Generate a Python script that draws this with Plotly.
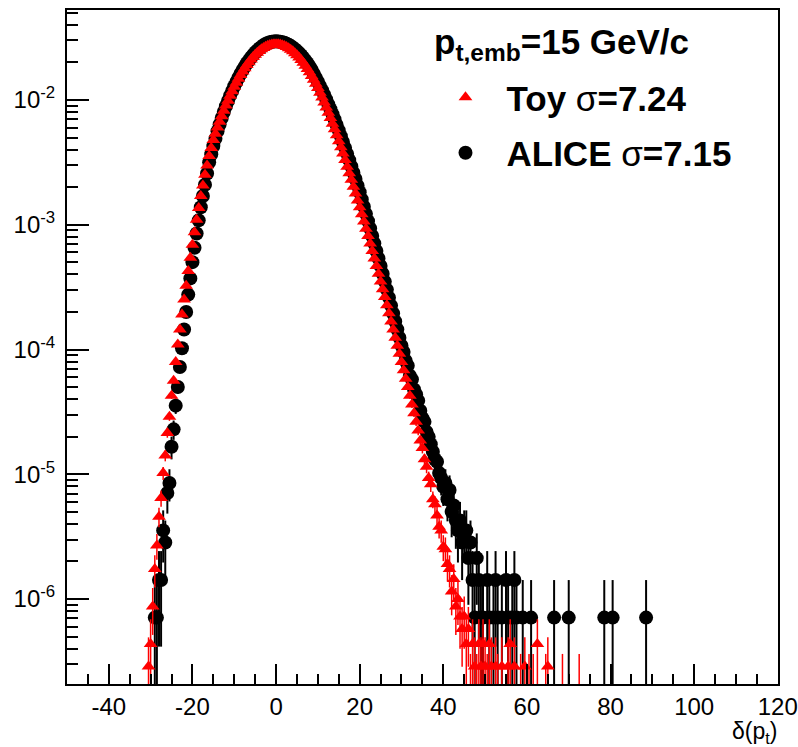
import math
import plotly.graph_objects as go

N = None
FONT = "Liberation Sans, Arial, Helvetica, sans-serif"

# ---------------- data ----------------
BIN_STEP = 0.5                 # bin width of both histograms (GeV/c)
TOY_X_START = -30.5            # centre of first toy bin
ALICE_X_START = -29.5          # centre of first ALICE bin
TOY_ONE_ENTRY = 1.45e-7        # height of a single-entry toy bin
ALICE_ONE_ENTRY = 7.1e-7       # height of a single-entry ALICE bin

# log10 of the normalised yield per bin (None = empty bin)
toy_log10 = [
    -6.54, -6.36, -6.06, -5.76, -5.57, -5.34, -5.19, -4.99, -4.85, -4.67,
    -4.54, -4.37, -4.25, -4.10, -3.96, -3.84, -3.72, -3.60, -3.49, -3.37,
    -3.265, -3.16, -3.06, -2.96, -2.865, -2.77, -2.685, -2.60, -2.525, -2.45,
    -2.385, -2.32, -2.27, -2.22, -2.175, -2.13, -2.087, -2.045, -2.006, -1.967,
    -1.93, -1.895, -1.862, -1.83, -1.80, -1.772, -1.746, -1.72, -1.697, -1.676,
    -1.656, -1.638, -1.622, -1.607, -1.594, -1.583, -1.574, -1.566, -1.56, -1.556,
    -1.554, -1.553, -1.554, -1.556, -1.561, -1.568, -1.576, -1.586, -1.597, -1.61,
    -1.625, -1.642, -1.66, -1.68, -1.702, -1.726, -1.751, -1.778, -1.807, -1.838,
    -1.871, -1.905, -1.942, -1.98, -2.02, -2.06, -2.102, -2.145, -2.19, -2.235,
    -2.282, -2.33, -2.38, -2.43, -2.482, -2.535, -2.587, -2.64, -2.695, -2.75,
    -2.805, -2.86, -2.917, -2.975, -3.032, -3.09, -3.15, -3.21, -3.27, -3.33,
    -3.392, -3.455, -3.517, -3.58, -3.645, -3.71, -3.775, -3.84, -3.905, -3.97,
    -4.035, -4.10, -4.167, -4.235, -4.30, -4.37, -4.44, -4.51, -4.58, -4.65,
    -4.73, -4.79, -4.88, -4.94, -5.03, -5.08, -5.20, -5.24, -5.33, -5.42,
    -5.45, -5.58, -5.60, -5.72, -5.76, -5.94, -5.84, -6.06, -6.00, -6.14,
    -6.24, -6.14, -6.36, -6.24, -6.71, -6.36, -6.54, -6.71, -6.36, -6.54,
    -6.36, -6.54, -6.71, -6.36, -6.54, N, -6.54, -6.71, N, -6.54,
    N, N, -6.54, -6.36, N, -6.54, N, N, -6.71, N,
    -6.54, N, -6.71, N, -6.71, N, -6.36, N, N, N,
    -6.71, -6.54, N, N, N, N, N, N, -6.71, N,
    N, N, N, N, N, N, -6.71,
]

alice_log10 = [
    N, -6.149, -6.149, -5.848, -5.848, -5.45, -5.547, -5.15, -5.07, -4.78,
    -4.64, -4.45, -4.30, -4.14, -3.99, -3.84, -3.70, -3.56, -3.43, -3.30,
    -3.185, -3.07, -2.965, -2.86, -2.77, -2.68, -2.59, -2.50, -2.435, -2.37,
    -2.31, -2.25, -2.197, -2.145, -2.097, -2.05, -2.008, -1.966, -1.928, -1.89,
    -1.856, -1.822, -1.79, -1.76, -1.733, -1.706, -1.683, -1.66, -1.64, -1.62,
    -1.604, -1.588, -1.575, -1.562, -1.552, -1.544, -1.538, -1.533, -1.531, -1.53,
    -1.531, -1.533, -1.537, -1.542, -1.549, -1.558, -1.568, -1.579, -1.593, -1.608,
    -1.624, -1.642, -1.662, -1.683, -1.706, -1.731, -1.757, -1.79, -1.821, -1.854,
    -1.887, -1.921, -1.958, -1.996, -2.035, -2.074, -2.115, -2.157, -2.20, -2.244,
    -2.29, -2.336, -2.384, -2.432, -2.482, -2.533, -2.583, -2.634, -2.687, -2.74,
    -2.797, -2.855, -2.913, -2.971, -3.03, -3.09, -3.15, -3.21, -3.27, -3.33,
    -3.393, -3.456, -3.52, -3.584, -3.648, -3.712, -3.776, -3.84, -3.905, -3.97,
    -4.02, -4.09, -4.13, -4.21, -4.24, -4.32, -4.36, -4.41, -4.49, -4.55,
    -4.58, -4.66, -4.70, -4.76, -4.82, -4.88, -4.90, -4.99, -5.03, -5.10,
    -5.07, -5.20, -5.126, -5.30, -5.25, -5.37, -5.45, -5.37, -5.547, -5.45,
    -5.45, -5.672, -5.547, -5.848, -6.149, -5.672, -5.848, -6.149, -6.149, N,
    -5.848, -6.149, N, -6.149, -5.848, -6.149, N, -6.149, N, -5.848,
    -6.149, N, -6.149, -5.848, -6.149, N, N, -6.149, N, N,
    N, -6.149, N, N, N, N, N, N, N, N,
    N, N, -6.149, N, N, N, N, N, N, -6.149,
    N, N, N, N, N, N, N, N, N, N,
    N, N, N, N, N, N, -6.149, N, N, N,
    -6.149, N, N, N, N, N, N, N, N, N,
    N, N, N, N, N, N, -6.149, N,
]

TOY_LABEL = "<b>Toy </b>σ<b>=7.24</b>"
ALICE_LABEL = "<b>ALICE </b>σ<b>=7.15</b>"
HEADER = "<b>p<sub>t,emb</sub>=15 GeV/c</b>"
X_TITLE = "δ(p<sub>t</sub>)"

X_RANGE = [-50, 120.05]
X_TICKS = [-40, -20, 0, 20, 40, 60, 80, 100, 120]
Y_LOG_RANGE = [-6.681, -1.279]
Y_DECADES = [-6, -5, -4, -3, -2]


def build(x0, logs, unit):
    ymin = 10 ** Y_LOG_RANGE[0]
    xs, ys, up, dn = [], [], [], []
    for i, v in enumerate(logs):
        if v is None:
            continue
        y = 10 ** v
        e = math.sqrt(y * unit)
        xs.append(x0 + BIN_STEP * i)
        ys.append(y)
        up.append(e)
        dn.append(min(e, max(y - ymin, 0.0)))
    return xs, ys, up, dn


ax, ay, aup, adn = build(ALICE_X_START, alice_log10, ALICE_ONE_ENTRY)
tx, ty, tup, tdn = build(TOY_X_START, toy_log10, TOY_ONE_ENTRY)

fig = go.Figure()
fig.add_trace(go.Scatter(
    x=ax, y=ay, mode="markers", name=ALICE_LABEL,
    legendgroup="alice", legendrank=2,
    marker=dict(symbol="circle", size=14, color="black"),
    error_y=dict(type="data", symmetric=False, array=aup, arrayminus=adn,
                 width=0, thickness=2, color="black"),
))
fig.add_trace(go.Scatter(
    x=tx, y=ty, mode="markers", name=TOY_LABEL,
    legendgroup="toy", legendrank=1, cliponaxis=False,
    marker=dict(symbol="triangle-up", size=12, color="#ff0000"),
    error_y=dict(type="data", symmetric=False, array=tup, arrayminus=tdn,
                 width=0, thickness=1.5, color="#ff0000"),
))

minor_y = [m * 10 ** d for d in range(-7, -1) for m in range(2, 10)
           if Y_LOG_RANGE[0] <= math.log10(m * 10 ** d) <= Y_LOG_RANGE[1]]

fig.update_layout(
    width=798, height=747,
    margin=dict(l=67, r=20, t=10, b=63, autoexpand=False),
    paper_bgcolor="white", plot_bgcolor="white",
    font=dict(family=FONT, size=24, color="black"),
    showlegend=True,
    legend=dict(
        x=0.5028, y=0.914, xanchor="left", yanchor="top",
        bgcolor="rgba(0,0,0,0)", borderwidth=0,
        font=dict(family=FONT, size=35, color="black"),
        itemwidth=72, tracegroupgap=7, traceorder="grouped",
    ),
    xaxis=dict(
        range=X_RANGE, tickmode="array", tickvals=X_TICKS,
        ticktext=[str(v) for v in X_TICKS], automargin=False,
        ticklabeloverflow="allow",
        ticks="inside", ticklen=20, tickwidth=1.5, tickcolor="black",
        minor=dict(dtick=5, tick0=0, ticks="inside", ticklen=10,
                   tickwidth=1.5, tickcolor="black"),
        showline=True, linecolor="black", linewidth=2, mirror=True,
        showgrid=False, zeroline=False,
        tickfont=dict(family=FONT, size=24, color="black"),
    ),
    yaxis=dict(
        type="log", range=Y_LOG_RANGE, tickmode="array",
        tickvals=[10 ** d for d in Y_DECADES],
        ticktext=["10<sup>%d</sup>" % d for d in Y_DECADES],
        automargin=False,
        ticks="inside", ticklen=22, tickwidth=1.5, tickcolor="black",
        minor=dict(tickmode="array", tickvals=minor_y, ticks="inside",
                   ticklen=11, tickwidth=1.5, tickcolor="black"),
        showline=True, linecolor="black", linewidth=2, mirror=True,
        showgrid=False, zeroline=False, ticklabelstandoff=5,
        tickfont=dict(family=FONT, size=24, color="black"),
    ),
    annotations=[
        dict(text=X_TITLE, xref="paper", yref="paper", x=1.0, y=0.0,
             xanchor="right", yanchor="top", yshift=-33, borderpad=0,
             showarrow=False,
             font=dict(family=FONT, size=23, color="black")),
        dict(text=HEADER, xref="paper", yref="paper", x=0.5134, y=0.9846,
             xanchor="left", yanchor="top", showarrow=False,
             font=dict(family=FONT, size=35, color="black")),
    ],
)

fig.write_html("out.html")
